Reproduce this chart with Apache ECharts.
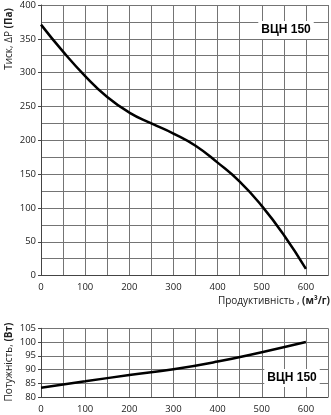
<!DOCTYPE html>
<html><head><meta charset="utf-8">
<script src="https://cdn.jsdelivr.net/npm/echarts@6/dist/echarts.min.js"></script>
<style>html,body{margin:0;padding:0;background:#fff}#c{width:331px;height:415px}</style>
</head><body><div id="c"></div>
<script>
const flowP = [0, 50, 100, 150, 200, 250, 300, 350, 400, 450, 500, 550, 600];
const pressure = [371, 331, 295, 264, 241, 225, 210, 192, 167, 139, 103, 60, 10];
const flowW = [0, 100, 200, 300, 400, 500, 600];
const power = [83.4, 85.7, 88.0, 90.1, 92.9, 96.3, 100];
const xTickLabels = ['0', '100', '200', '300', '400', '500', '600'];
const modelName = 'ВЦН 150';

const F = '"Open Sans", sans-serif';
const gridColor = '#747474';
const labelStyle = {color: '#222', fontFamily: F, fontSize: 9.5};

function xAxisCfg(gi) {
  return {
    type: 'value', gridIndex: gi, min: 0, max: 650, interval: 50,
    axisLine: {show: true, lineStyle: {color: '#444', width: 1}},
    axisTick: {show: false},
    splitLine: {show: true, lineStyle: {color: gridColor, width: 1}},
    axisLabel: Object.assign({margin: 7, formatter: v => xTickLabels.includes(String(v)) ? String(v) : ''}, labelStyle)
  };
}

const chart = echarts.init(document.getElementById('c'), null, {renderer: 'canvas'});
chart.setOption({
  animation: false,
  backgroundColor: '#fff',
  grid: [
    {left: 41, top: 5, width: 290, height: 270.6},
    {left: 41, top: 328.3, width: 290, height: 68.7}
  ],
  xAxis: [xAxisCfg(0), xAxisCfg(1)],
  yAxis: [
    {type: 'value', gridIndex: 0, min: 0, max: 400, interval: 50,
     axisLine: {show: true, lineStyle: {color: '#444'}},
     axisTick: {show: true, length: 3, lineStyle: {color: '#444'}},
     splitLine: {show: true, lineStyle: {color: gridColor}},
     minorTick: {show: false, splitNumber: 2},
     minorSplitLine: {show: true, lineStyle: {color: gridColor}},
     axisLabel: Object.assign({margin: 5}, labelStyle)},
    {type: 'value', gridIndex: 1, min: 80, max: 105, interval: 5,
     axisLine: {show: true, lineStyle: {color: '#444'}},
     axisTick: {show: true, length: 3, lineStyle: {color: '#444'}},
     splitLine: {show: true, lineStyle: {color: gridColor}},
     axisLabel: Object.assign({margin: 5}, labelStyle)}
  ],
  series: [
    {type: 'line', xAxisIndex: 0, yAxisIndex: 0, smooth: 0.5, symbol: 'none',
     lineStyle: {color: '#000', width: 2.5}, data: flowP.map((x, i) => [x, pressure[i]])},
    {type: 'line', xAxisIndex: 1, yAxisIndex: 1, smooth: 0.5, symbol: 'none',
     lineStyle: {color: '#000', width: 2.5}, data: flowW.map((x, i) => [x, power[i]])}
  ],
  graphic: [
    {type: 'text', x: 286, y: 30, z: 100, style: {text: modelName, fontFamily: 'Liberation Sans, Arial', fontWeight: 'bold', fontSize: 12, fill: '#000', align: 'center', verticalAlign: 'middle', backgroundColor: '#fff', padding: [3, 3]}},
    {type: 'text', x: 292, y: 378, z: 100, style: {text: modelName, fontFamily: 'Liberation Sans, Arial', fontWeight: 'bold', fontSize: 12, fill: '#000', align: 'center', verticalAlign: 'middle', backgroundColor: '#fff', padding: [3, 3]}},
    {type: 'text', x: 330, y: 301, style: {text: '{a|Продуктивність , }{b|(м³/г)}', align: 'right', verticalAlign: 'middle',
      rich: {a: {fontFamily: F, fontSize: 10, fill: '#222'}, b: {fontFamily: F, fontSize: 10, fontWeight: 'bold', fill: '#222'}}}},
    {type: 'text', x: 9, y: 39, rotation: Math.PI / 2, style: {text: '{a|Тиск, ΔP }{b|(Па)}', align: 'center', verticalAlign: 'middle',
      rich: {a: {fontFamily: F, fontSize: 10, fill: '#222'}, b: {fontFamily: F, fontSize: 10, fontWeight: 'bold', fill: '#222'}}}},
    {type: 'text', x: 9, y: 362, rotation: Math.PI / 2, style: {text: '{a|Потужність, }{b|(Вт)}', align: 'center', verticalAlign: 'middle',
      rich: {a: {fontFamily: F, fontSize: 10, fill: '#222'}, b: {fontFamily: F, fontSize: 10, fontWeight: 'bold', fill: '#222'}}}}
  ]
});
</script></body></html>
